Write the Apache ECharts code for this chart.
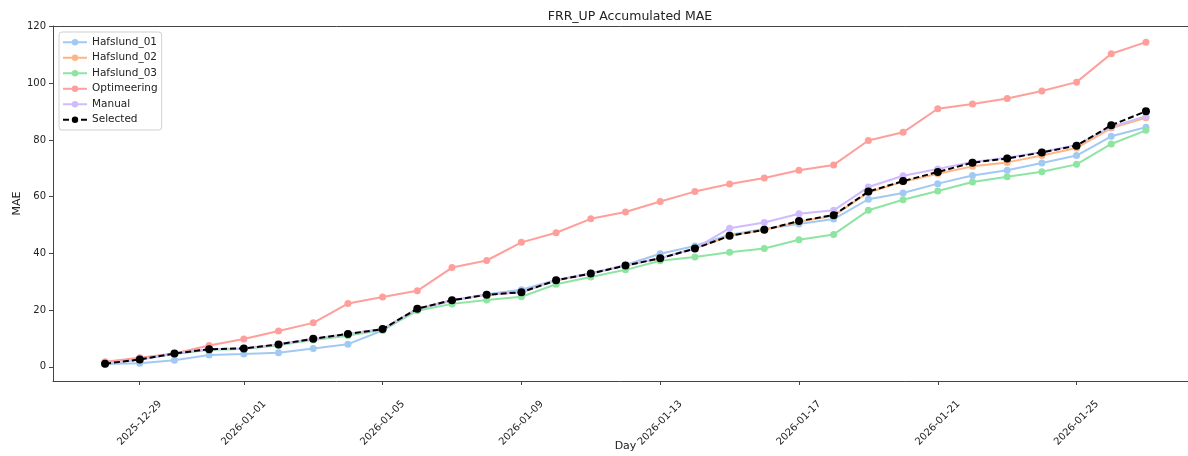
<!DOCTYPE html>
<html>
<head>
<meta charset="utf-8">
<script src="https://cdn.jsdelivr.net/npm/echarts@6/dist/echarts.min.js"></script>
<style>html,body{margin:0;padding:0;background:#fff}#c{width:1188px;height:456px}</style>
</head>
<body>
<div id="c"></div>
<script>
const days = ['2025-12-28','2025-12-29','2025-12-30','2025-12-31','2026-01-01','2026-01-02','2026-01-03','2026-01-04','2026-01-05','2026-01-06','2026-01-07','2026-01-08','2026-01-09','2026-01-10','2026-01-11','2026-01-12','2026-01-13','2026-01-14','2026-01-15','2026-01-16','2026-01-17','2026-01-18','2026-01-19','2026-01-20','2026-01-21','2026-01-22','2026-01-23','2026-01-24','2026-01-25','2026-01-26','2026-01-27'];
const xTickLabels = ['2025-12-29','2026-01-01','2026-01-05','2026-01-09','2026-01-13','2026-01-17','2026-01-21','2026-01-25'];
const yTicks = [0, 20, 40, 60, 80, 100, 120];

const hafslund01 = [1.0,1.3,2.3,4.2,4.5,5.0,6.5,8.0,12.8,20.2,23.3,25.6,27.2,30.6,33.0,35.9,39.9,42.6,46.6,48.6,50.4,52.1,59.1,61.3,64.6,67.5,69.3,71.9,74.5,81.3,84.5];
const hafslund02 = [1.3,2.7,4.7,6.2,6.5,7.9,9.9,11.6,13.3,20.5,23.5,25.4,26.3,30.5,32.9,35.7,38.3,41.7,46.2,48.3,51.2,53.3,61.5,65.3,68.1,70.7,72.1,74.5,77.2,84.2,87.8];
const hafslund03 = [1.0,2.6,4.5,6.0,6.3,7.6,9.5,11.0,13.0,19.8,22.2,23.6,24.7,29.1,31.7,34.2,37.4,38.7,40.4,41.7,44.8,46.7,55.2,58.9,62.0,65.2,67.0,68.8,71.4,78.6,83.4];
const optimeering = [1.8,3.2,4.7,7.5,9.8,12.6,15.5,22.3,24.6,26.8,35.0,37.5,43.9,47.3,52.2,54.6,58.3,61.8,64.5,66.6,69.3,71.2,79.8,82.7,91.0,92.7,94.6,97.3,100.4,110.4,114.5];
const manual = [1.1,2.6,4.7,6.2,6.5,7.9,9.9,11.6,13.3,20.5,23.5,25.4,26.3,30.5,32.9,35.7,38.3,41.7,48.9,50.9,54.0,55.2,63.4,67.4,69.8,72.2,73.7,75.8,78.2,84.6,88.4];
const selected = [1.1,2.6,4.7,6.2,6.5,7.9,9.9,11.6,13.3,20.5,23.5,25.4,26.3,30.5,32.9,35.7,38.3,41.7,46.2,48.3,51.4,53.5,61.8,65.5,68.7,72.0,73.5,75.6,78.0,85.2,90.1];

const seriesNames = ['Hafslund_01','Hafslund_02','Hafslund_03','Optimeering','Manual','Selected'];
const seriesValues = [hafslund01, hafslund02, hafslund03, optimeering, manual, selected];
const colors = ['#a1c9f4','#ffb482','#8de5a1','#ff9f9b','#d0bbff','#000000'];

const xTickIdx = xTickLabels.map(d => days.indexOf(d));
const font = 'DejaVu Sans';

const chart = echarts.init(document.getElementById('c'), null, {renderer: 'canvas'});
chart.setOption({
  animation: false,
  backgroundColor: '#fff',
  title: {
    text: 'FRR_UP Accumulated MAE',
    left: 625, top: 5, textAlign: 'center',
    textStyle: {fontFamily: font, fontSize: 12.5, fontWeight: 'normal', color: '#222'}
  },
  grid: {left: 53, right: -10, top: 26, bottom: 75, show: false, outerBoundsMode: 'none', containLabel: false},
  legend: {
    orient: 'vertical', left: 59, top: 32,
    itemWidth: 24, itemHeight: 8, itemGap: 3,
    padding: [4, 4, 4, 3],
    borderColor: '#d0d0d0', borderWidth: 1, borderRadius: 3,
    backgroundColor: 'rgba(255,255,255,0.85)',
    textStyle: {fontFamily: font, fontSize: 10.5, color: '#222', lineHeight: 12.5},
    data: seriesNames
  },
  xAxis: [{
    type: 'value', min: -1.5, max: 31.5,
    name: 'Day', nameLocation: 'middle', nameGap: 60, nameMoveOverlap: false,
    nameTextStyle: {fontFamily: font, fontSize: 11, color: '#222'},
    splitLine: {show: false},
    axisLine: {show: true, onZero: false, lineStyle: {color: '#444', width: 1}},
    axisTick: {show: true, length: 4, lineStyle: {color: '#444'}, customValues: xTickIdx},
    axisLabel: {
      customValues: xTickIdx,
      formatter: v => days[Math.round(v)] || '',
      rotate: 45, align: 'center', verticalAlign: 'middle', margin: 42,
      fontFamily: font, fontSize: 10, color: '#222'
    }
  }, {
    type: 'value', position: 'top', min: -1.5, max: 31.5,
    splitLine: {show: false},
    axisLine: {show: true, onZero: false, lineStyle: {color: '#444', width: 1}},
    axisTick: {show: false},
    axisLabel: {show: false}
  }],
  yAxis: {
    type: 'value', min: -5, max: 120.2,
    name: 'MAE', nameLocation: 'middle', nameGap: 30, nameMoveOverlap: false,
    nameTextStyle: {fontFamily: font, fontSize: 11, color: '#222'},
    splitLine: {show: false},
    axisLine: {show: true, onZero: false, lineStyle: {color: '#444', width: 1}},
    axisTick: {show: true, length: 4, lineStyle: {color: '#444'}, customValues: yTicks},
    axisLabel: {customValues: yTicks, fontFamily: font, fontSize: 10, color: '#222', margin: 7}
  },
  series: seriesNames.map((name, k) => ({
    name: name,
    type: 'line',
    xAxisIndex: 0,
    data: seriesValues[k].map((v, i) => [i, v]),
    symbol: 'circle',
    symbolSize: k === 5 ? 8 : 7,
    showSymbol: true,
    itemStyle: {color: colors[k]},
    lineStyle: {color: colors[k], width: 2, type: k === 5 ? [6, 3] : 'solid'},
    emphasis: {disabled: true},
    z: 2 + k
  }))
});
</script>
</body>
</html>
